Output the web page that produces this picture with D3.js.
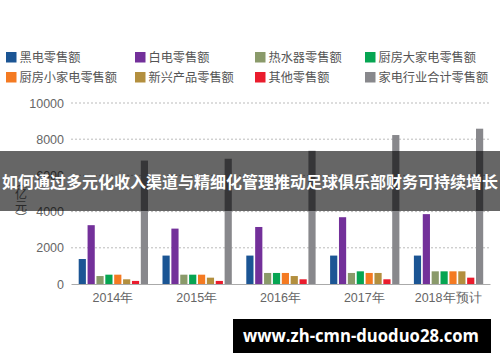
<!DOCTYPE html>
<html><head><meta charset="utf-8">
<script src="https://cdn.jsdelivr.net/npm/d3@7"></script>
<style>
html,body{margin:0;padding:0;background:#fff;}
svg{display:block;font-family:"Noto Sans CJK SC","Noto Sans",sans-serif;}
</style></head>
<body><svg id="c" width="500" height="362"></svg>
<script>
const years = ["2014年","2015年","2016年","2017年","2018年预计"];
const seriesNames = ["黑电零售额","白电零售额","热水器零售额","厨房大家电零售额","厨房小家电零售额","新兴产品零售额","其他零售额","家电行业合计零售额"];
const colors = ["#1b5594","#73309a","#8a9a6a","#06a552","#f47a22","#b38f3e","#ea1c2d","#88888c"];
const blackTV   = [1380, 1570, 1570, 1570, 1570];
const whiteApp  = [3250, 3060, 3150, 3690, 3860];
const heater    = [440, 515, 610, 610, 700];
const kitchenBig= [515, 515, 610, 700, 700];
const kitchenSm = [515, 515, 610, 610, 700];
const emerging  = [260, 350, 440, 610, 700];
const others    = [170, 170, 260, 260, 350];
const total     = [6820, 6920, 7360, 8230, 8580];
const yTicks = [0, 2000, 4000, 6000, 8000, 10000];
const title = "如何通过多元化收入渠道与精细化管理推动足球俱乐部财务可持续增长";
const watermark = "www.zh-cmn-duoduo28.com";
const yLabel = "（亿元）";

const series = [blackTV, whiteApp, heater, kitchenBig, kitchenSm, emerging, others, total];
const svg = d3.select("#c");

// legend
const legCols = [6, 135, 255, 365];
seriesNames.forEach((n,i)=>{
  const col = i%4, row = Math.floor(i/4);
  const g = svg.append("g").attr("transform",`translate(${legCols[col]},${52+row*20})`);
  g.append("rect").attr("width",10.5).attr("height",10.5).attr("fill",colors[i]);
  g.append("text").attr("x",13.5).attr("y",10).attr("font-size",12.2).attr("fill","#555").text(n);
});

const x0 = d3.scaleBand().domain(years).range([71,490]).paddingInner(0).paddingOuter(0);
const x1 = d3.scaleBand().domain(d3.range(8)).range([7.7, 7.7+69.3]).paddingInner(0.19).paddingOuter(0);
const y = d3.scaleLinear().domain([0,10000]).range([284,103]);

// grid
svg.append("g").selectAll("line").data(yTicks.filter(d=>d>0)).join("line")
  .attr("x1",71).attr("x2",490).attr("y1",d=>y(d)).attr("y2",d=>y(d))
  .attr("stroke","#bbb").attr("stroke-dasharray","2,2").attr("stroke-width",1);

// y axis labels
const ya = svg.append("g").attr("transform","translate(71,0)")
  .call(d3.axisLeft(y).tickValues(yTicks).tickSize(0).tickPadding(7).tickFormat(d3.format("d")));
ya.select(".domain").remove();
ya.selectAll("text").attr("font-size",12.5).attr("fill","#666").attr("font-family","Liberation Sans, Arial, sans-serif");

svg.append("text").attr("x",21).attr("y",176).attr("font-size",12).attr("fill","#666")
  .style("writing-mode","vertical-rl").attr("text-anchor","start").text(yLabel);

// bars
years.forEach((yr,gi)=>{
  const g = svg.append("g").attr("transform",`translate(${x0(yr)},0)`);
  g.selectAll("rect").data(series.map((s,si)=>({si, v:s[gi]}))).join("rect")
    .attr("x",d=>x1(d.si)).attr("width",x1.bandwidth())
    .attr("y",d=>y(d.v)).attr("height",d=>y(0)-y(d.v)).attr("fill",d=>colors[d.si]);
});

// x axis
const xa = svg.append("g").attr("transform","translate(0,284)")
  .call(d3.axisBottom(x0).tickSize(0).tickPadding(9));
xa.select(".domain").attr("stroke","#aaa");
xa.selectAll("text").attr("font-size",12.5).attr("fill","#666");

// overlay title band
svg.append("rect").attr("x",0).attr("y",151).attr("width",500).attr("height",60).attr("fill","#000").attr("opacity",0.6);
svg.append("text").attr("x",250).attr("y",188).attr("text-anchor","middle").attr("font-size",16)
  .attr("font-weight","bold").attr("fill","#fff").text(title);

// watermark
svg.append("rect").attr("x",233).attr("y",319).attr("width",258).attr("height",34).attr("fill","#000");
svg.append("text").attr("x",243).attr("y",342).attr("text-anchor","start").attr("font-size",17)
  .attr("font-weight","bold").attr("fill","#fff").attr("font-family","Open Sans, Liberation Sans, sans-serif")
  .attr("textLength",236).attr("lengthAdjust","spacingAndGlyphs").text(watermark);
</script></body></html>
